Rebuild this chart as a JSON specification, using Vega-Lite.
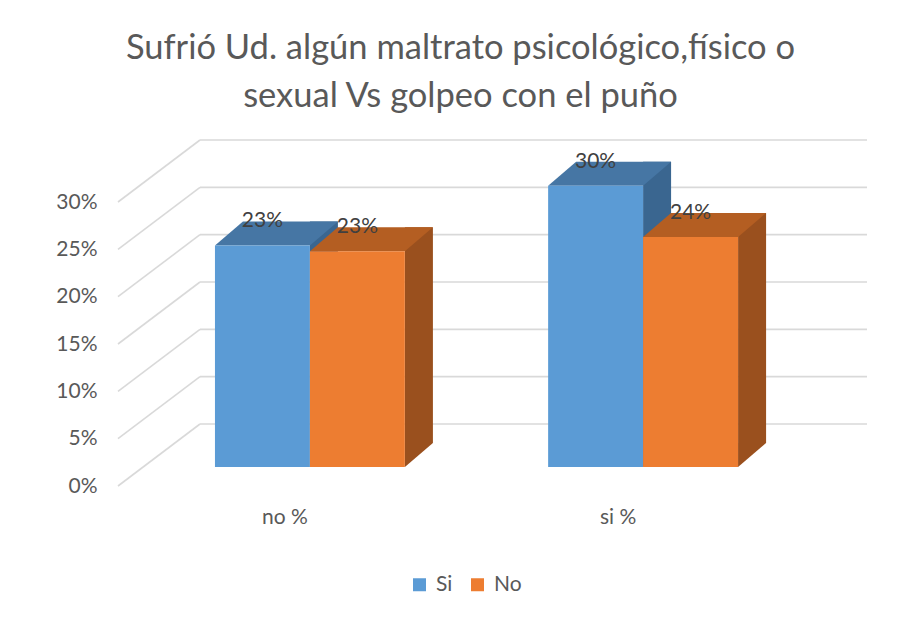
{
  "$schema": "https://vega.github.io/schema/vega-lite/v6.json",
  "width": 667,
  "height": 284,
  "autosize": {"type": "none"},
  "padding": {"left": 143, "top": 183, "right": 96, "bottom": 152},
  "background": "white",
  "title": {
    "text": ["Sufrió Ud. algún maltrato psicológico,físico o", "sexual Vs golpeo con el puño"],
    "font": "Lato",
    "fontSize": 34.5,
    "fontWeight": "normal",
    "color": "#595959",
    "lineHeight": 48,
    "anchor": "middle",
    "dx": -16,
    "dy": -21
  },
  "datasets": {
    "grid": [{"g": 0}, {"g": 0.05}, {"g": 0.1}, {"g": 0.15}, {"g": 0.2}, {"g": 0.25}, {"g": 0.3}],
    "bars": [
      {"cat": "no %", "serie": "Si", "v": 0.234},
      {"cat": "no %", "serie": "No", "v": 0.228},
      {"cat": "si %", "serie": "Si", "v": 0.297},
      {"cat": "si %", "serie": "No", "v": 0.243}
    ]
  },
  "config": {
    "view": {"stroke": null},
    "font": "Lato",
    "axisY": {"values": [0, 0.05, 0.1, 0.15, 0.2, 0.25, 0.3], "format": ".0%", "grid": false, "domain": false, "ticks": false, "tickSize": 0, "labelPadding": 46, "labelOffset": 19, "labelFontSize": 21, "labelColor": "#595959", "labelFont": "Lato"},
    "axisX": {"grid": false, "domain": false, "ticks": false, "tickSize": 0, "labelPadding": 50, "labelOffset": -25, "labelBaseline": "middle", "labelAngle": 0, "labelFontSize": 21, "labelColor": "#595959", "labelFont": "Lato"},
    "legend": {"orient": "none", "legendX": 266, "legendY": 391, "direction": "horizontal", "symbolType": "square", "symbolSize": 169, "symbolStrokeWidth": 0, "labelFontSize": 21, "labelColor": "#595959", "labelFont": "Lato", "labelOffset": 6, "columnPadding": 14}
  },
  "layer": [
    {
      "data": {"name": "grid"},
      "mark": {"type": "rule", "color": "#D9D9D9", "strokeWidth": 1.6, "xOffset": 57, "x2Offset": 57, "yOffset": -43},
      "encoding": {
        "x": {"value": 0},
        "x2": {"value": 667},
        "y": {"field": "g", "type": "quantitative", "scale": {"domain": [0, 0.3], "nice": false}, "title": null}
      }
    },
    {
      "data": {"name": "grid"},
      "mark": {"type": "rule", "color": "#D9D9D9", "strokeWidth": 1.6, "xOffset": -25, "x2Offset": 57, "yOffset": 19, "y2Offset": -43},
      "encoding": {
        "x": {"value": 0},
        "x2": {"value": 0},
        "y": {"field": "g", "type": "quantitative", "title": null},
        "y2": {"field": "g"}
      }
    },
    {
      "data": {"name": "bars"},
      "transform": [{"filter": "datum.serie === 'Si'"}],
      "mark": {"type": "bar", "width": 28, "color": "#3A6690", "xOffset": 14, "yOffset": -24, "y2Offset": -24},
      "encoding": {
        "x": {"field": "cat", "type": "nominal", "scale": {"paddingInner": 0.43, "paddingOuter": 0.216}, "title": null},
        "y": {"field": "v", "type": "quantitative", "title": null},
        "y2": {"datum": 0}
      }
    },
    {
      "data": {"name": "bars"},
      "transform": [{"filter": "datum.serie === 'No'"}],
      "mark": {"type": "bar", "width": 28, "color": "#9A501E", "xOffset": 109, "yOffset": -24, "y2Offset": -24},
      "encoding": {
        "x": {"field": "cat", "type": "nominal", "title": null},
        "y": {"field": "v", "type": "quantitative", "title": null},
        "y2": {"datum": 0}
      }
    },
    {
      "data": {"name": "bars"},
      "mark": {"type": "point", "shape": "M 3.393 -0.857 L 3.393 0.857 L 5.393 -0.857 Z", "size": 784, "filled": true, "opacity": 1, "strokeWidth": 0, "yOffset": -12},
      "encoding": {
        "x": {"field": "cat", "type": "nominal", "title": null},
        "xOffset": {"field": "serie", "type": "nominal", "sort": ["Si", "No"], "scale": {"paddingInner": 0, "paddingOuter": 0}},
        "y": {"datum": 0, "type": "quantitative"},
        "fill": {"condition": {"test": "datum.serie === 'Si'", "value": "#3A6690"}, "value": "#9A501E"}
      }
    },
    {
      "data": {"name": "bars"},
      "mark": {"type": "point", "shape": "M -0.772 0.195 L 0.772 0.195 L 1.228 -0.195 L -0.317 -0.195 Z", "size": 15129, "filled": true, "opacity": 1, "strokeWidth": 0, "yOffset": -12},
      "encoding": {
        "x": {"field": "cat", "type": "nominal", "title": null},
        "xOffset": {"field": "serie", "type": "nominal", "sort": ["Si", "No"]},
        "y": {"field": "v", "type": "quantitative", "title": null},
        "fill": {"condition": {"test": "datum.serie === 'Si'", "value": "#4676A4"}, "value": "#B45E22"}
      }
    },
    {
      "data": {"name": "bars"},
      "mark": {"type": "bar"},
      "encoding": {
        "x": {"field": "cat", "type": "nominal", "title": null},
        "xOffset": {"field": "serie", "type": "nominal", "sort": ["Si", "No"]},
        "y": {"field": "v", "type": "quantitative", "title": null},
        "color": {"field": "serie", "type": "nominal", "sort": ["Si", "No"], "scale": {"domain": ["Si", "No"], "range": ["#5B9BD5", "#ED7D31"]}, "title": null}
      }
    },
    {
      "data": {"name": "bars"},
      "mark": {"type": "text", "dy": -24, "baseline": "middle", "align": "center", "fontSize": 21, "font": "Lato", "color": "#404040"},
      "encoding": {
        "x": {"field": "cat", "type": "nominal", "title": null},
        "xOffset": {"field": "serie", "type": "nominal", "sort": ["Si", "No"]},
        "y": {"field": "v", "type": "quantitative", "title": null},
        "text": {"field": "v", "type": "quantitative", "format": ".0%"}
      }
    }
  ]
}
